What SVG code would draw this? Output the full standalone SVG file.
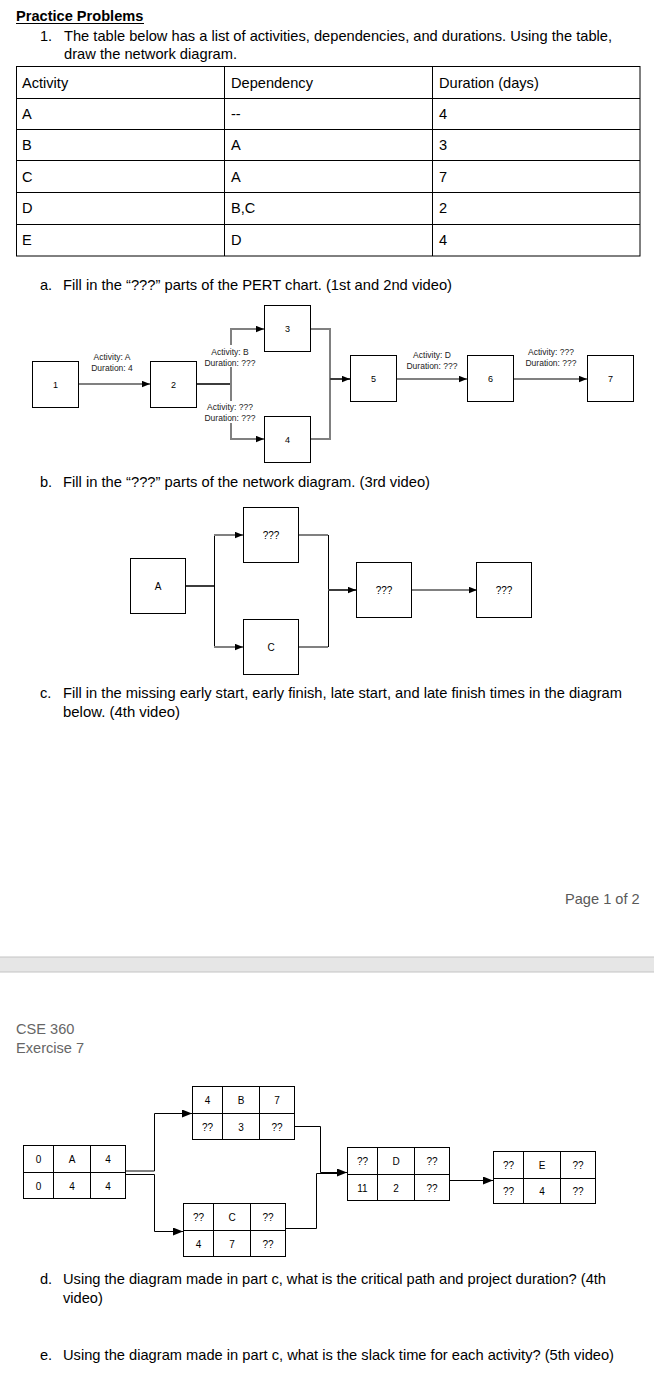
<svg xmlns="http://www.w3.org/2000/svg" width="654" height="1392" viewBox="0 0 654 1392">
<style>
text{font-family:"Liberation Sans",Arial,sans-serif;fill:#000}
.t{font-size:14.6px}
.b{font-weight:bold}
.g{fill:#595959}
.box{fill:#fff;stroke:#000;stroke-width:1}
.cl{fill:none;stroke:#000;stroke-width:1}
.gl{fill:none;stroke:#808080;stroke-width:2}
.dl{fill:none;stroke:#3c3c3c;stroke-width:2}
.n9{font-size:9px;text-anchor:middle;dominant-baseline:central}
.n10{font-size:10px;text-anchor:middle;dominant-baseline:central}
.lb{font-size:8.5px;text-anchor:middle;fill:#222}
</style>
<defs>
<marker id="ah" viewBox="0 0 10 8" refX="10" refY="4" markerWidth="8" markerHeight="7" markerUnits="userSpaceOnUse" orient="auto"><path d="M0,0 L10,4 L0,8 z" fill="#000"/></marker>
<marker id="ah2" viewBox="0 0 10 8" refX="10" refY="4" markerWidth="10" markerHeight="8" markerUnits="userSpaceOnUse" orient="auto"><path d="M0,0 L10,4 L0,8 z" fill="#000"/></marker>
</defs>
<rect width="654" height="1392" fill="#fff"/>

<!-- Heading -->
<text class="t b" x="16" y="21">Practice Problems</text>
<line x1="16" y1="23.5" x2="144" y2="23.5" stroke="#000" stroke-width="1"/>
<text class="t" x="40" y="41">1.</text>
<text class="t" x="64" y="41" textLength="548" lengthAdjust="spacingAndGlyphs">The table below has a list of activities, dependencies, and durations. Using the table,</text>
<text class="t" x="64" y="59" textLength="173" lengthAdjust="spacingAndGlyphs">draw the network diagram.</text>

<!-- Table -->
<g id="table">
<rect x="16.5" y="66.5" width="623.5" height="189.5" fill="none" stroke="#000" stroke-width="1"/>
<g stroke="#000" stroke-width="1">
<line x1="16.5" y1="98.5" x2="640" y2="98.5"/>
<line x1="16.5" y1="129.5" x2="640" y2="129.5"/>
<line x1="16.5" y1="160.5" x2="640" y2="160.5"/>
<line x1="16.5" y1="192.5" x2="640" y2="192.5"/>
<line x1="16.5" y1="224.5" x2="640" y2="224.5"/>
<line x1="224.5" y1="66.5" x2="224.5" y2="256"/>
<line x1="432.5" y1="66.5" x2="432.5" y2="256"/>
</g>
<text class="t" x="22" y="88">Activity</text>
<text class="t" x="231" y="88">Dependency</text>
<text class="t" x="439" y="88">Duration (days)</text>
<text class="t" x="22" y="119">A</text><text class="t" x="231" y="119">--</text><text class="t" x="439" y="119">4</text>
<text class="t" x="22" y="150">B</text><text class="t" x="231" y="150">A</text><text class="t" x="439" y="150">3</text>
<text class="t" x="22" y="182">C</text><text class="t" x="231" y="182">A</text><text class="t" x="439" y="182">7</text>
<text class="t" x="22" y="213">D</text><text class="t" x="231" y="213">B,C</text><text class="t" x="439" y="213">2</text>
<text class="t" x="22" y="245">E</text><text class="t" x="231" y="245">D</text><text class="t" x="439" y="245">4</text>
</g>

<!-- Part a -->
<text class="t" x="40" y="290">a.</text>
<text class="t" x="63" y="290" textLength="389" lengthAdjust="spacingAndGlyphs">Fill in the “???” parts of the PERT chart. (1st and 2nd video)</text>

<g id="pert-connectors">
<line class="gl" x1="79" y1="384" x2="150" y2="384" marker-end="url(#ah)"/>
<line class="dl" x1="197" y1="384" x2="231" y2="384"/>
<line class="gl" x1="231" y1="329" x2="231" y2="439"/>
<line class="gl" x1="230" y1="329" x2="264" y2="329" marker-end="url(#ah)"/>
<line class="gl" x1="230" y1="439" x2="264" y2="439" marker-end="url(#ah)"/>
<polyline class="gl" points="311,329 330,329 330,439 311,439"/>
<line class="dl" x1="330" y1="379" x2="350" y2="379" marker-end="url(#ah)"/>
<line class="gl" x1="397" y1="379" x2="467" y2="379" marker-end="url(#ah)"/>
<line class="gl" x1="514" y1="379" x2="587" y2="379" marker-end="url(#ah)"/>
<rect x="202" y="345" width="56" height="22" fill="#fff"/>
<rect x="202" y="401" width="56" height="22" fill="#fff"/>
<text class="lb" x="112" y="360">Activity: A</text>
<text class="lb" x="112" y="371">Duration: 4</text>
<text class="lb" x="230" y="355">Activity: B</text>
<text class="lb" x="230" y="366">Duration: ???</text>
<text class="lb" x="230" y="410">Activity: ???</text>
<text class="lb" x="230" y="421">Duration: ???</text>
<text class="lb" x="432" y="358">Activity: D</text>
<text class="lb" x="432" y="369">Duration: ???</text>
<text class="lb" x="551" y="355">Activity: ???</text>
<text class="lb" x="551" y="366">Duration: ???</text>
</g>
<g id="p1"><rect class="box" x="32.5" y="361.5" width="46" height="46"/><text class="n9" x="55.5" y="384.5">1</text></g>
<g id="p2"><rect class="box" x="150.5" y="361.5" width="46" height="46"/><text class="n9" x="173.5" y="384.5">2</text></g>
<g id="p3"><rect class="box" x="264.5" y="305.5" width="46" height="46"/><text class="n9" x="287.5" y="329">3</text></g>
<g id="p4"><rect class="box" x="264.5" y="416.5" width="46" height="46"/><text class="n9" x="287.5" y="440">4</text></g>
<g id="p5"><rect class="box" x="350.5" y="355.5" width="46" height="46"/><text class="n9" x="373.5" y="379">5</text></g>
<g id="p6"><rect class="box" x="467.5" y="355.5" width="46" height="46"/><text class="n9" x="490.5" y="379">6</text></g>
<g id="p7"><rect class="box" x="587.5" y="355.5" width="46" height="46"/><text class="n9" x="610.5" y="379">7</text></g>

<!-- Part b -->
<text class="t" x="40" y="487">b.</text>
<text class="t" x="63" y="487" textLength="367" lengthAdjust="spacingAndGlyphs">Fill in the “???” parts of the network diagram. (3rd video)</text>

<g id="net-connectors">
<line class="dl" x1="186" y1="586" x2="214" y2="586"/>
<line class="cl" x1="214.5" y1="535" x2="214.5" y2="647"/>
<line class="gl" x1="214" y1="535" x2="243" y2="535" marker-end="url(#ah)"/>
<line class="gl" x1="214" y1="647" x2="243" y2="647" marker-end="url(#ah)"/>
<line class="gl" x1="298" y1="535" x2="328" y2="535"/>
<line class="gl" x1="298" y1="647" x2="328" y2="647"/>
<line class="cl" x1="328.5" y1="535" x2="328.5" y2="647"/>
<line class="dl" x1="328" y1="590" x2="356" y2="590" marker-end="url(#ah)"/>
<line class="gl" x1="412" y1="590" x2="477" y2="590" marker-end="url(#ah)"/>
</g>
<g id="nA"><rect class="box" x="130.5" y="558.5" width="55" height="55"/><text class="n10" x="158" y="586">A</text></g>
<g id="nB"><rect class="box" x="243.5" y="507.5" width="55" height="55"/><text class="n10" x="271" y="535">???</text></g>
<g id="nC"><rect class="box" x="243.5" y="619.5" width="55" height="55"/><text class="n10" x="271" y="647">C</text></g>
<g id="nD"><rect class="box" x="356.5" y="562.5" width="55" height="55"/><text class="n10" x="384" y="590">???</text></g>
<g id="nE"><rect class="box" x="476.5" y="562.5" width="55" height="55"/><text class="n10" x="504" y="590">???</text></g>

<!-- Part c -->
<text class="t" x="40" y="698">c.</text>
<text class="t" x="63" y="698" textLength="559" lengthAdjust="spacingAndGlyphs">Fill in the missing early start, early finish, late start, and late finish times in the diagram</text>
<text class="t" x="63" y="717" textLength="117" lengthAdjust="spacingAndGlyphs">below. (4th video)</text>

<text class="t g" x="565" y="904">Page 1 of 2</text>

<!-- Page separator -->
<rect x="0" y="957" width="654" height="15" fill="#e6e6e6"/>
<line x1="0" y1="957" x2="654" y2="957" stroke="#c4c4c4" stroke-width="1"/>
<line x1="0" y1="972" x2="654" y2="972" stroke="#c4c4c4" stroke-width="1"/>

<text class="t" x="16" y="1034" style="fill:#666">CSE 360</text>
<text class="t" x="16" y="1053" style="fill:#666">Exercise 7</text>

<g id="aon-connectors">
<polyline class="cl" points="125,1171 154.5,1171 154.5,1113.5 192,1113.5" marker-end="url(#ah2)"/>
<polyline class="cl" points="125,1174.5 154.5,1174.5 154.5,1231.5 183,1231.5" marker-end="url(#ah2)"/>
<polyline class="cl" points="294,1126.5 320.5,1126.5 320.5,1172.5 347,1172.5" marker-end="url(#ah2)"/>
<polyline class="cl" points="285,1228.5 316.5,1228.5 316.5,1173.5 340,1173.5"/>
<line class="cl" x1="449" y1="1180.5" x2="493" y2="1180.5" marker-end="url(#ah2)"/>
</g>

<g id="cA">
<rect class="box" x="23.5" y="1145.5" width="102" height="53"/>
<line class="cl" x1="23.5" y1="1172.5" x2="125.5" y2="1172.5"/>
<line class="cl" x1="53.5" y1="1145.5" x2="53.5" y2="1198.5"/>
<line class="cl" x1="90.5" y1="1145.5" x2="90.5" y2="1198.5"/>
<text class="n10" x="38.5" y="1159">0</text><text class="n10" x="72" y="1159">A</text><text class="n10" x="108" y="1159">4</text>
<text class="n10" x="38.5" y="1186">0</text><text class="n10" x="72" y="1186">4</text><text class="n10" x="108" y="1186">4</text>
</g>
<g id="cB">
<rect class="box" x="192.5" y="1086.5" width="102" height="53"/>
<line class="cl" x1="192.5" y1="1113.5" x2="294.5" y2="1113.5"/>
<line class="cl" x1="222.5" y1="1086.5" x2="222.5" y2="1139.5"/>
<line class="cl" x1="259.5" y1="1086.5" x2="259.5" y2="1139.5"/>
<text class="n10" x="207.5" y="1100">4</text><text class="n10" x="241" y="1100">B</text><text class="n10" x="277" y="1100">7</text>
<text class="n10" x="207.5" y="1127">??</text><text class="n10" x="241" y="1127">3</text><text class="n10" x="277" y="1127">??</text>
</g>
<g id="cC">
<rect class="box" x="183.5" y="1203.5" width="102" height="53"/>
<line class="cl" x1="183.5" y1="1230.5" x2="285.5" y2="1230.5"/>
<line class="cl" x1="213.5" y1="1203.5" x2="213.5" y2="1256.5"/>
<line class="cl" x1="250.5" y1="1203.5" x2="250.5" y2="1256.5"/>
<text class="n10" x="198.5" y="1217">??</text><text class="n10" x="232" y="1217">C</text><text class="n10" x="268" y="1217">??</text>
<text class="n10" x="198.5" y="1244">4</text><text class="n10" x="232" y="1244">7</text><text class="n10" x="268" y="1244">??</text>
</g>
<g id="cD">
<rect class="box" x="347.5" y="1147.5" width="102" height="53"/>
<line class="cl" x1="347.5" y1="1174.5" x2="449.5" y2="1174.5"/>
<line class="cl" x1="377.5" y1="1147.5" x2="377.5" y2="1200.5"/>
<line class="cl" x1="414.5" y1="1147.5" x2="414.5" y2="1200.5"/>
<text class="n10" x="362.5" y="1161">??</text><text class="n10" x="396" y="1161">D</text><text class="n10" x="432" y="1161">??</text>
<text class="n10" x="362.5" y="1188">11</text><text class="n10" x="396" y="1188">2</text><text class="n10" x="432" y="1188">??</text>
</g>
<g id="cE">
<rect class="box" x="493.5" y="1151.5" width="102" height="52"/>
<line class="cl" x1="493.5" y1="1178.5" x2="595.5" y2="1178.5"/>
<line class="cl" x1="523.5" y1="1151.5" x2="523.5" y2="1203.5"/>
<line class="cl" x1="560.5" y1="1151.5" x2="560.5" y2="1203.5"/>
<text class="n10" x="508.5" y="1165">??</text><text class="n10" x="542" y="1165">E</text><text class="n10" x="578" y="1165">??</text>
<text class="n10" x="508.5" y="1191">??</text><text class="n10" x="542" y="1191">4</text><text class="n10" x="578" y="1191">??</text>
</g>

<!-- Part d / e -->
<text class="t" x="40" y="1284">d.</text>
<text class="t" x="63" y="1284" textLength="543" lengthAdjust="spacingAndGlyphs">Using the diagram made in part c, what is the critical path and project duration? (4th</text>
<text class="t" x="63" y="1303">video)</text>
<text class="t" x="40" y="1360">e.</text>
<text class="t" x="63" y="1360" textLength="551" lengthAdjust="spacingAndGlyphs">Using the diagram made in part c, what is the slack time for each activity? (5th video)</text>
</svg>
